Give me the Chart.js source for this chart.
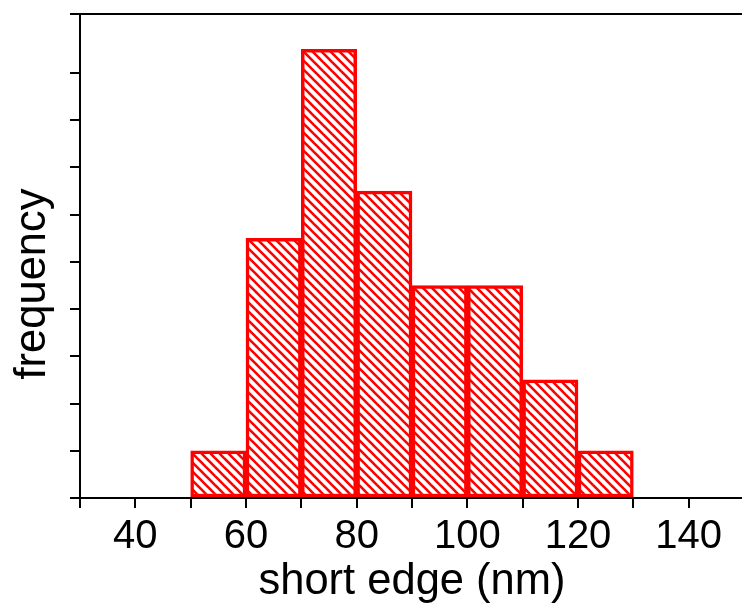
<!DOCTYPE html>
<html>
<head>
<meta charset="utf-8">
<script src="https://cdn.jsdelivr.net/npm/chart.js@4/dist/chart.umd.min.js"></script>
<style>
  html, body { margin: 0; padding: 0; background: #fff; overflow: hidden; }
  #wrap { width: 749px; height: 608px; }
</style>
</head>
<body>
<div id="wrap"><canvas id="histChart"></canvas></div>
<script>
// histogram data: bin starts (nm) and counts
const binStarts = [50, 60, 70, 80, 90, 100, 110, 120];
const binWidth = 10;
const counts = [2, 11, 19, 13, 9, 9, 5, 2];
const xLabels = [40, 60, 80, 100, 120, 140];

// diagonal hatch pattern
function makeHatch() {
    const s = 9;
    const c = document.createElement('canvas');
    c.width = s; c.height = s;
    const g = c.getContext('2d');
    g.fillStyle = '#fff';
    g.fillRect(0, 0, s, s);
    g.strokeStyle = '#ff0000';
    g.lineWidth = 2.6;
    [-s, 0, s].forEach(function (o) {
        g.beginPath();
        g.moveTo(-1, -1 + o);
        g.lineTo(s + 1, s + 1 + o);
        g.stroke();
    });
    return g.createPattern(c, 'repeat');
}

const frame = {
    id: 'frame',
    afterDraw(chart) {
        const ctx = chart.ctx, a = chart.chartArea;
        ctx.save();
        ctx.strokeStyle = '#000';
        ctx.lineWidth = 2;
        ctx.beginPath();
        ctx.moveTo(a.left, a.top);
        ctx.lineTo(a.right, a.top);
        ctx.stroke();
        // y axis title
        ctx.translate(45, 284);
        ctx.rotate(-Math.PI / 2);
        ctx.fillStyle = '#000';
        ctx.font = '43.5px "Liberation Sans", Arial, sans-serif';
        ctx.textAlign = 'center';
        ctx.textBaseline = 'alphabetic';
        ctx.fillText('frequency', 0, 0);
        ctx.restore();
    }
};

const ctx = document.getElementById('histChart').getContext('2d');
new Chart(ctx, {
    type: 'bar',
    data: {
        datasets: [{
            data: binStarts.map((b, i) => ({ x: b + binWidth / 2, y: counts[i] })),
            backgroundColor: makeHatch(),
            borderColor: '#ff0000',
            borderWidth: 3.5,
            borderSkipped: false,
            barPercentage: 1,
            categoryPercentage: 1
        }]
    },
    options: {
        responsive: true,
        maintainAspectRatio: false,
        animation: false,
        layout: { padding: { top: 14, right: 0, left: 0, bottom: 0 } },
        plugins: { legend: { display: false }, tooltip: { enabled: false } },
        scales: {
            x: {
                type: 'linear',
                min: 30,
                max: 150,
                offset: false,
                z: 1,
                border: { color: '#000', width: 2 },
                grid: { drawOnChartArea: false, offset: false, color: '#000', lineWidth: 2, tickLength: 10 },
                ticks: {
                    stepSize: 10,
                    autoSkip: false,
                    maxRotation: 0,
                    color: '#000',
                    padding: 5,
                    font: { family: '"Liberation Sans", Arial, sans-serif', size: 40 },
                    callback: v => xLabels.includes(v) ? String(v) : ''
                },
                title: {
                    display: true,
                    text: 'short edge (nm)',
                    color: '#000',
                    padding: { top: 0, bottom: 0 },
                    font: { family: '"Liberation Sans", Arial, sans-serif', size: 43.5 }
                },
                afterFit: s => { s.height = 110; }
            },
            y: {
                min: 0,
                max: 20.5,
                z: 1,
                border: { color: '#000', width: 2 },
                grid: { drawOnChartArea: false, color: '#000', lineWidth: 2, tickLength: 10 },
                ticks: { stepSize: 2, display: false },
                afterFit: s => { s.width = 80; }
            }
        }
    },
    plugins: [frame]
});
</script>
</body>
</html>
